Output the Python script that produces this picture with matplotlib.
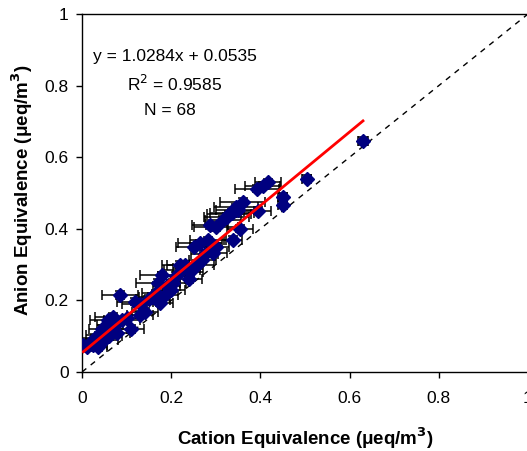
import matplotlib
matplotlib.use("Agg")
import matplotlib.pyplot as plt
import numpy as np

plt.rcParams['font.family'] = ['Liberation Sans', 'DejaVu Sans']

cation = [0.630, 0.504, 0.450, 0.450, 0.417, 0.392, 0.405, 0.394, 0.360, 0.350,
          0.336, 0.324, 0.316, 0.354, 0.338, 0.287, 0.283, 0.265, 0.250, 0.294,
          0.270, 0.257, 0.235, 0.224, 0.220, 0.242, 0.180, 0.170, 0.204, 0.186,
          0.157, 0.168, 0.175, 0.119, 0.141, 0.085, 0.070, 0.058, 0.063, 0.078,
          0.040, 0.029, 0.050, 0.025, 0.011, 0.003, 0.018, 0.090, 0.130, 0.150,
          0.190, 0.210, 0.230, 0.275, 0.300, 0.330, 0.345, 0.300, 0.100, 0.110,
          0.060, 0.035, 0.045, 0.130, 0.200, 0.165, 0.240, 0.080]
anion = [0.645, 0.540, 0.490, 0.467, 0.530, 0.512, 0.520, 0.450, 0.475, 0.452,
         0.444, 0.434, 0.425, 0.400, 0.370, 0.410, 0.368, 0.360, 0.350, 0.333,
         0.312, 0.300, 0.290, 0.285, 0.300, 0.280, 0.270, 0.250, 0.249, 0.215,
         0.210, 0.200, 0.193, 0.196, 0.168, 0.215, 0.154, 0.145, 0.131, 0.109,
         0.103, 0.095, 0.090, 0.075, 0.070, 0.075, 0.082, 0.145, 0.190, 0.205,
         0.240, 0.268, 0.300, 0.330, 0.405, 0.440, 0.460, 0.350, 0.150, 0.120,
         0.100, 0.070, 0.120, 0.160, 0.230, 0.220, 0.260, 0.140]
cation_err = [0.012, 0.010, 0.010, 0.010, 0.030, 0.050, 0.040, 0.030, 0.050, 0.050,
              0.050, 0.050, 0.040, 0.030, 0.020, 0.040, 0.040, 0.050, 0.040, 0.030,
              0.030, 0.040, 0.030, 0.040, 0.040, 0.030, 0.050, 0.050, 0.030, 0.030,
              0.030, 0.030, 0.030, 0.040, 0.030, 0.040, 0.040, 0.040, 0.030, 0.030,
              0.030, 0.030, 0.030, 0.030, 0.020, 0.020, 0.030, 0.040, 0.040, 0.030,
              0.030, 0.040, 0.040, 0.030, 0.050, 0.050, 0.050, 0.030, 0.030, 0.030,
              0.030, 0.020, 0.030, 0.030, 0.030, 0.030, 0.030, 0.030]
anion_err = [0.012] + [0.010] * 67

slope, intercept = 1.0284, 0.0535
r2 = 0.9585
n_pts = 68
ticks = [0, 0.2, 0.4, 0.6, 0.8, 1]
tick_labels = ['0', '0.2', '0.4', '0.6', '0.8', '1']

fig = plt.figure(figsize=(5.27, 4.51), dpi=100)
W, H = 527, 451
x0, x1 = 82, 528
y0, y1 = 372, 14
ax = fig.add_axes([x0 / W, 1 - y0 / H, (x1 - x0) / W, (y0 - y1) / H])

ax.errorbar(cation, anion, xerr=cation_err, yerr=anion_err, fmt='none',
            ecolor='black', elinewidth=1.1, capsize=3.5, capthick=1.1, zorder=2)
ax.plot(cation, anion, linestyle='none', marker='D', markersize=7,
        color='#000080', markeredgecolor='#000080', zorder=3)

ax.plot([0, 1], [0, 1], linestyle=(0, (4, 4)), color='black', linewidth=1, zorder=1)
xs = np.array([min(cation), max(cation)])
ax.plot(xs, slope * xs + intercept, color='red', linewidth=2, zorder=4)

ax.set_xlim(0, 1)
ax.set_ylim(0, 1)
ax.set_xticks(ticks)
ax.set_xticklabels(tick_labels)
ax.set_yticks(ticks)
ax.set_yticklabels(tick_labels)
ax.tick_params(direction='out', length=4.5, width=1, labelsize=12.5)
ax.tick_params(axis='x', pad=9)
ax.tick_params(axis='y', pad=5)
for s in ax.spines.values():
    s.set_linewidth(1)

ax.text(0.208, 0.882, f'y = {slope:.4f}x + {intercept:.4f}', ha='center', va='center', fontsize=12.5,
        transform=ax.transAxes)
ax.text(0.208, 0.806, f'R$^2$ = {r2:.4f}', ha='center', va='center', fontsize=12.5,
        transform=ax.transAxes)
ax.text(0.198, 0.73, f'N = {n_pts}', ha='center', va='center', fontsize=12.5,
        transform=ax.transAxes)

fig.text(305 / W, 1 - 438 / H, 'Cation Equivalence (μeq/m$^\\mathbf{3}$)', ha='center', va='center',
         fontsize=13.5, fontweight='bold')
fig.text(22 / W, 1 - 190 / H, 'Anion Equivalence (μeq/m$^\\mathbf{3}$)', ha='center', va='center',
         fontsize=13.5, fontweight='bold', rotation=90)

fig.savefig('out.png', dpi=100)
